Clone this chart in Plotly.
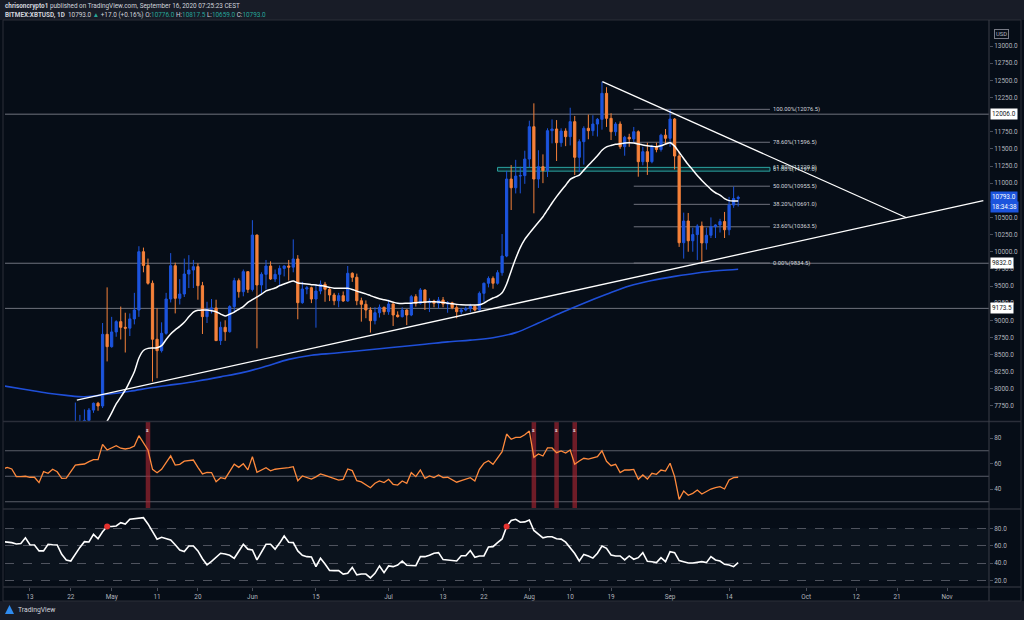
import plotly.graph_objects as go
import pandas as pd

# ---------------- data ----------------
candle_start, candle_end = "2020-04-07", "2020-09-16"

opens = [7200, 7180, 7360, 7290, 6870, 6890, 6910, 6860, 6870, 6630, 7110, 7030, 7250, 7130, 6840, 6860, 7130, 7490, 7510, 7540, 7690, 7790, 7750, 8795,
         8615, 8830, 8980, 8897, 8885, 9020, 9150, 10000, 9800, 9540, 8723, 8557, 8810, 9310, 9796, 9320, 9383, 9675, 9733, 9782, 9505, 9053, 9160, 9180, 8703, 8897, 8833, 9200, 9578, 9417, 9709,
         9450, 10243, 9515, 9670, 9792, 9602, 9670, 9757, 9792, 9775, 9894, 9257, 9456, 9475, 9310, 9427, 9525, 9452, 9369, 9285, 9359, 9281, 9685, 9627, 9285, 9233, 9150, 8994, 9110, 9189,
         9125, 9237, 9077, 9053, 9150, 9077, 9345, 9248, 9442, 9257, 9281, 9248, 9296, 9237, 9255, 9184, 9125, 9150, 9170, 9205, 9150, 9393, 9540, 9611, 9540, 9694, 9937, 11060, 10933, 11104, 11110,
         11352, 11823, 11060, 11240, 11182, 11765, 11790, 11590, 11760, 11678, 11897, 11377, 11605, 11800, 11765, 11862, 11931, 12310, 11945, 11750, 11862, 11532, 11669, 11645, 11750, 11313, 11459, 11313, 11532, 11490, 11700,
         11654, 11935, 11396, 10131, 10448, 10160, 10250, 10375, 10128, 10240, 10365, 10390, 10440, 10320, 10680, 10776]
highs = [7460, 7420, 7380, 7300, 6950, 7180, 6920, 6980, 6930, 7170, 7150, 7300, 7260, 7210, 6940, 7160, 7800, 7620, 7700, 7720, 7800, 7810, 8960, 9480,
         9050, 9000, 9200, 9110, 9100, 9400, 10080, 10060, 9900, 9580, 9175, 8970, 9400, 9980, 9840, 9600, 9900, 9950, 9880, 9830, 9560, 9270, 9310, 9300, 8980, 9000, 9220, 9620, 9610, 9740, 9710,
         10460, 10250, 9700, 9880, 9860, 9740, 9800, 9800, 9880, 10180, 9950, 9560, 9500, 9490, 9530, 9580, 9560, 9480, 9400, 9400, 9420, 9792, 9700, 9680, 9330, 9290, 9190, 9190, 9230, 9200,
         9300, 9270, 9130, 9190, 9160, 9370, 9380, 9470, 9450, 9320, 9300, 9340, 9340, 9280, 9270, 9220, 9180, 9200, 9240, 9220, 9420, 9550, 9640, 9640, 9730, 10258, 11180, 11264, 11340, 11240, 11473,
         11911, 12164, 11480, 11420, 11800, 11930, 11920, 11800, 11800, 12100, 11980, 11640, 11830, 12000, 11990, 11950, 12480, 12400, 12020, 11890, 11900, 11690, 11720, 11820, 11770, 11530, 11590, 11560, 11590, 11720, 11790,
         12076.5, 11950, 11460, 10570, 10565, 10350, 10400, 10440, 10350, 10500, 10400, 10480, 10580, 10800, 10950, 10817.5]
lows = [7080, 7150, 7120, 6760, 6780, 6810, 6560, 6780, 6610, 6470, 7000, 7020, 7050, 6790, 6800, 6840, 7030, 7420, 7440, 7480, 7650, 7680, 7720, 8400,
        8600, 8760, 8720, 8530, 8770, 8940, 9050, 9700, 9520, 8105, 8155, 8530, 8790, 9260, 9100, 9230, 9340, 9470, 9470, 9300, 8800, 8960, 9100, 8700, 8640, 8700, 8820, 9110, 9330, 9350, 9400,
        9420, 8591, 9390, 9450, 9590, 9560, 9490, 9640, 9580, 9700, 9015, 9240, 9380, 9250, 8892, 9380, 9270, 9280, 9220, 9190, 9270, 9270, 9560, 9220, 8980, 9030, 8820, 8940, 9040, 9080,
        9080, 8917, 9040, 9040, 8930, 9060, 9200, 9230, 9150, 9120, 9190, 9170, 9190, 9110, 9160, 9029, 9090, 9130, 9120, 9130, 9140, 9270, 9480, 9460, 9520, 9650, 9920, 10608, 10850, 10851, 10990,
        11230, 10560, 10930, 11000, 11090, 11580, 11323, 11530, 11540, 11550, 11118, 11160, 11270, 11640, 11690, 11680, 11780, 11820, 11629, 11690, 11500, 11400, 11530, 11600, 11094, 11260, 11120, 11290, 11450, 11460, 11570,
        11530, 11200, 10070, 9900, 10000, 10000, 9880, 9834.5, 10030, 10200, 10200, 10280, 10200, 10240, 10640, 10659]
closes = [7180, 7360, 7290, 6870, 6890, 6910, 6860, 6870, 6630, 7110, 7030, 7250, 7130, 6840, 6860, 7130, 7490, 7510, 7540, 7690, 7790, 7750, 8795, 8615,
          8830, 8980, 8897, 8885, 9020, 9150, 10000, 9800, 9540, 8723, 8557, 8810, 9310, 9796, 9320, 9383, 9675, 9733, 9782, 9505, 9053, 9160, 9180, 8703, 8897, 8833, 9200, 9578, 9417, 9709, 9450,
          10243, 9515, 9670, 9792, 9602, 9670, 9757, 9792, 9775, 9894, 9257, 9456, 9475, 9310, 9427, 9525, 9452, 9369, 9285, 9359, 9281, 9685, 9627, 9285, 9233, 9150, 8994, 9110, 9189, 9125,
          9237, 9077, 9053, 9150, 9077, 9345, 9248, 9442, 9257, 9281, 9248, 9296, 9237, 9255, 9184, 9125, 9150, 9170, 9205, 9150, 9393, 9540, 9611, 9540, 9694, 9937, 11060, 10933, 11104, 11110, 11352,
          11823, 11060, 11240, 11182, 11765, 11790, 11590, 11760, 11678, 11897, 11377, 11605, 11800, 11765, 11862, 11931, 12310, 11945, 11750, 11862, 11532, 11669, 11645, 11750, 11313, 11459, 11313, 11532, 11490, 11700, 11654,
          11935, 11396, 10131, 10448, 10160, 10250, 10375, 10128, 10240, 10365, 10390, 10440, 10320, 10680, 10776, 10793]

# white moving average (from 2020-04-27)
ma20_start = "2020-04-27"
ma20 = [7250, 7340, 7440, 7530,
        7650, 7780, 7880, 7980, 8110, 8250, 8450, 8560, 8590, 8595, 8600, 8630, 8720, 8800, 8860, 8910, 8970, 9050, 9120, 9145, 9150, 9150, 9140, 9125, 9090, 9062, 9090, 9120, 9160, 9200, 9260,
        9300, 9340, 9380, 9430, 9450, 9470, 9505, 9530, 9555, 9573, 9545, 9535, 9530, 9520, 9515, 9505, 9495, 9480, 9468, 9466, 9466, 9466, 9450, 9425, 9405, 9385, 9360, 9335, 9315, 9300,
        9285, 9265, 9250, 9245, 9248, 9250, 9256, 9262, 9266, 9270, 9271, 9265, 9258, 9250, 9240, 9232, 9226, 9223, 9222, 9222, 9225, 9250, 9290, 9325, 9350, 9400, 9530, 9720, 9900, 10060, 10180,
        10268, 10350, 10430, 10511, 10610, 10710, 10803, 10890, 10970, 11056, 11090, 11118, 11190, 11260, 11330, 11400, 11480, 11530, 11550, 11566, 11575, 11585, 11590, 11585, 11570, 11556, 11545, 11538, 11532, 11545, 11570,
        11590, 11540, 11450, 11360, 11270, 11192, 11110, 11040, 10973, 10910, 10860, 10827, 10775, 10745, 10740, 10740]

# blue long moving average (sampled)
ma200_dates = ["2020-04-07", "2020-04-12", "2020-04-17", "2020-04-21", "2020-04-25", "2020-04-30", "2020-05-05", "2020-05-10",
               "2020-05-15", "2020-05-20", "2020-05-25", "2020-05-30", "2020-06-04", "2020-06-09", "2020-06-14", "2020-06-19",
               "2020-06-24", "2020-06-29", "2020-07-04", "2020-07-09", "2020-07-14", "2020-07-19", "2020-07-24", "2020-07-29",
               "2020-08-03", "2020-08-08", "2020-08-13", "2020-08-18", "2020-08-23", "2020-08-28", "2020-09-02", "2020-09-07",
               "2020-09-12", "2020-09-16"]
ma200 = [8045, 7990, 7935, 7905, 7885, 7920, 7965, 8020, 8065, 8115, 8175, 8240, 8330, 8430, 8490, 8520,
         8552, 8585, 8618, 8650, 8685, 8710, 8745, 8820, 8960, 9110, 9250, 9380, 9500, 9580, 9640, 9690, 9725, 9745]

# oscillator panes (daily, from 2020-04-07)
osc1 = [55.4, 57, 55.7, 49.7, 49.7, 50, 49.2, 49.2, 45, 53.6, 52.3, 55.5, 53.5, 48.3, 48.6, 53.5, 58.8, 59.2, 59.6, 61.5, 63, 63, 75, 70.6,
        72, 74, 72, 71.4, 72, 73.7, 81.8, 76.5, 70.6, 55.4, 52.8, 55.5, 61, 66, 58.8, 59.3, 61.8, 62.4, 62.7, 57, 51.8, 53, 52.9, 45.7, 48.9, 48.1, 53.5, 59.4, 57, 59.8, 55,
        65.4, 53.1, 55, 56.7, 54.3, 55.5, 56, 56.2, 56.8, 57.5, 46.5, 50.2, 49, 47.8, 49.5, 51.8, 50.7, 49.5, 48.3, 47, 47.6, 55.7, 54.4, 46.5, 45.6, 43.5, 41, 44.5, 46.3, 45,
        47.6, 43.7, 43.1, 46.3, 44.5, 52.8, 49.7, 54.9, 48.4, 50.2, 48.9, 51, 48.9, 49.2, 47.5, 45.3, 46.5, 47.5, 48.9, 46.3, 55.4, 60.2, 62.2, 59.4, 64, 69.3, 83.1, 79, 80.5, 80.5, 82.5,
        85.5, 64.9, 67.5, 65.9, 72.2, 72.2, 68.5, 69.8, 68.2, 70.6, 59.4, 62, 64.1, 63.5, 64.6, 65.4, 70, 61.7, 58.3, 59.4, 52.8, 54.9, 54.9, 55.4, 47.6, 51, 47.8, 52.3, 51.5, 54.9, 54.1,
        60.2, 49.7, 31.9, 38.4, 35.1, 36.6, 39.2, 36.1, 37.9, 40, 41, 41.8, 40, 47.1, 48.9, 49.2]
osc2 = [64.6, 64, 63.5, 62, 62.5, 69, 61, 60.8, 54, 54, 61.6, 61, 60.8, 50, 43.6, 42.4, 51, 58, 64.6, 64.3, 73, 68, 76, 82,
        82, 82.6, 86.4, 84.9, 90.3, 91.2, 91.8, 92.2, 85, 76, 67.5, 69.7, 68.5, 66.5, 61, 55, 53.3, 59.6, 59.6, 54, 45, 38, 42, 46.5, 51.3, 50.5, 49, 45.5, 53, 61.6, 56,
        55, 43.6, 52, 61.6, 61.6, 56, 63, 71.1, 64, 63.5, 54, 49, 47.4, 47, 35.9, 45.5, 39, 31.5, 31.3, 31.3, 27.4, 28.2, 35, 26.5, 27.4, 27.4, 23, 28.2, 36.7, 29,
        36.7, 35.9, 37.8, 42.4, 37.5, 37, 37, 47.4, 47.4, 49, 51.3, 52, 44, 43.6, 43.3, 42.4, 48.5, 48.5, 54.5, 46.7, 48.2, 48.2, 58.5, 58.9, 63.5, 67.7, 81.9, 89, 90.3, 87, 87.3,
        89.5, 77.5, 73, 69, 70.3, 70.3, 68, 67.5, 64, 58, 51, 42.4, 50, 48.2, 45.7, 51.3, 59.6, 57, 49.3, 48.2, 48.2, 43.6, 48.2, 44.4, 46.2, 52, 42, 41.6, 40.5, 46.2, 41.6,
        53.1, 52, 42.8, 41.8, 40, 40, 40.5, 41.6, 40.5, 47.4, 43.6, 42.4, 38.6, 37.8, 35.9, 40.5]

sell_signal_dates = ["2020-05-09", "2020-08-02", "2020-08-07", "2020-08-11"]
dot_dates = ["2020-04-30", "2020-07-27"]

# drawings
trend_up_x = ["2020-04-23 08:00", "2020-11-09 00:00"]
trend_up_y = [7837, 10744]
trend_down_x = ["2020-08-17 02:00", "2020-10-23 02:00"]
trend_down_y = [12480, 10495]
level_prices = [12006.0, 9832.0, 9173.5]
fib_start, fib_end = "2020-08-24", "2020-09-23"
fib_prices = [9834.5, 10363.5, 10691.0, 10955.5, 11596.5, 12076.5]
fib_labels = ["0.00%(9834.5)", "23.60%(10363.5)", "38.20%(10691.0)", "50.00%(10955.5)", "78.60%(11596.5)", "100.00%(12076.5)"]
zone_start = "2020-07-25"
zone_prices = [11175, 11230]
zone_labels = ["61.80%(11220.0)", "61.80%(11197.0)"]
zone_label_prices = [11226, 11196]

# price-axis labels visible in the reference (12000 and 10750 sit under the level / last-price boxes)
price_ticks = [7750, 8000, 8250, 8500, 8750, 9000, 9250, 9500, 9750, 10000, 10250, 10500, 11000,
               11250, 11500, 11750, 12250, 12500, 12750, 13000]
date_ticks = ["2020-04-13", "2020-04-22", "2020-05-01", "2020-05-11", "2020-05-20", "2020-06-01", "2020-06-15",
              "2020-07-01", "2020-07-13", "2020-07-22", "2020-08-01", "2020-08-10", "2020-08-19", "2020-09-01",
              "2020-09-14", "2020-10-01", "2020-10-12", "2020-10-21", "2020-11-01"]
date_labels = ["13", "22", "May", "11", "20", "Jun", "15", "Jul", "13", "22", "Aug", "10", "19", "Sep", "14",
               "Oct", "12", "21", "Nov"]
last_price, countdown = 10793.0, "18:34:38"

# ---------------- layout helpers ----------------
W, H = 1024, 620
ML, MR, MT, MB = 5, 35, 21, 33
PW, PH = W - ML - MR, H - MT - MB


def px_x(px):
    return (px - ML) / PW


def px_y(py):
    return (H - MB - py) / PH


BG = "#060d17"
FRAME = "#181c27"
SEP = "#2a2e39"
BLUE = "#1c54dd"
ORANGE = "#f5813a"
TEAL = "#26a69a"
TXT = "#b2b5be"
FONT = "Roboto"

cdates = pd.date_range(candle_start, candle_end, freq="D")
mdates = pd.date_range(ma20_start, periods=len(ma20), freq="D")
osc_dates = pd.date_range(candle_start, periods=len(osc1), freq="D")
osc2_s = pd.Series(osc2, index=osc_dates)

fig = go.Figure()
fig.add_trace(go.Candlestick(
    x=cdates, open=opens, high=highs, low=lows, close=closes,
    increasing=dict(line=dict(color=BLUE, width=1), fillcolor=BLUE),
    decreasing=dict(line=dict(color=ORANGE, width=1), fillcolor=ORANGE),
    whiskerwidth=0, xaxis="x", yaxis="y", showlegend=False, hoverinfo="skip"))
fig.add_trace(go.Scatter(x=ma200_dates, y=ma200, mode="lines", line=dict(color="#1f4fd8", width=1.6, shape="spline"),
                         xaxis="x", yaxis="y", showlegend=False, hoverinfo="skip"))
fig.add_trace(go.Scatter(x=mdates, y=ma20, mode="lines", line=dict(color="#ffffff", width=1.5, shape="spline", smoothing=0.6),
                         xaxis="x", yaxis="y", showlegend=False, hoverinfo="skip"))
fig.add_trace(go.Scatter(x=trend_up_x, y=trend_up_y, mode="lines", line=dict(color="#ffffff", width=1.3),
                         xaxis="x", yaxis="y", showlegend=False, hoverinfo="skip"))
fig.add_trace(go.Scatter(x=trend_down_x, y=trend_down_y, mode="lines", line=dict(color="#ffffff", width=1.3),
                         xaxis="x", yaxis="y", showlegend=False, hoverinfo="skip"))
fig.add_trace(go.Scatter(x=osc_dates, y=osc1, mode="lines", line=dict(color="#ff8a3d", width=1.3),
                         xaxis="x", yaxis="y2", showlegend=False, hoverinfo="skip"))
fig.add_trace(go.Scatter(x=osc_dates, y=osc2, mode="lines", line=dict(color="#ffffff", width=1.6),
                         xaxis="x", yaxis="y3", showlegend=False, hoverinfo="skip"))
fig.add_trace(go.Scatter(x=dot_dates, y=[osc2_s[pd.Timestamp(d)] for d in dot_dates], mode="markers",
                         marker=dict(color="#e5322f", size=6), xaxis="x", yaxis="y3", showlegend=False, hoverinfo="skip"))

shapes = []
# outer header / footer strips
shapes.append(dict(type="rect", xref="paper", yref="paper", x0=px_x(0), x1=px_x(W), y0=px_y(20), y1=px_y(0),
                   fillcolor=FRAME, line=dict(width=0), layer="below"))
shapes.append(dict(type="rect", xref="paper", yref="paper", x0=px_x(0), x1=px_x(W), y0=px_y(H), y1=px_y(601),
                   fillcolor=FRAME, line=dict(width=0), layer="below"))
# frame & separators
shapes.append(dict(type="rect", xref="paper", yref="paper", x0=px_x(3), x1=px_x(1021), y0=px_y(601), y1=px_y(20),
                   line=dict(color=SEP, width=1)))
for py in (421.5, 509, 587):
    shapes.append(dict(type="line", xref="paper", yref="paper", x0=px_x(3), x1=px_x(1021), y0=px_y(py), y1=px_y(py),
                       line=dict(color=SEP, width=1.5)))
shapes.append(dict(type="line", xref="paper", yref="paper", x0=1, x1=1, y0=px_y(601), y1=px_y(20),
                   line=dict(color="#3a3e49", width=1)))
# horizontal levels
for lv in level_prices:
    shapes.append(dict(type="line", xref="paper", yref="y", x0=0, x1=1, y0=lv, y1=lv,
                       line=dict(color="#6f727d", width=1), layer="below"))
# fib lines
for fp in fib_prices:
    shapes.append(dict(type="line", xref="x", yref="y", x0=fib_start, x1=fib_end, y0=fp, y1=fp,
                       line=dict(color="#6f727d", width=1), layer="below"))
# teal zone
shapes.append(dict(type="rect", xref="x", yref="y", x0=zone_start, x1=fib_end, y0=zone_prices[0], y1=zone_prices[1],
                   line=dict(color="#2aa3a0", width=1), fillcolor="rgba(38,166,154,0.18)", layer="below"))
# osc pane 1 levels
for lv in (30, 50, 70):
    shapes.append(dict(type="line", xref="paper", yref="y2", x0=0, x1=1, y0=lv, y1=lv,
                       line=dict(color="#5a5e69", width=1), layer="below"))
# osc pane 2 band
shapes.append(dict(type="rect", xref="paper", yref="y3", x0=0, x1=1, y0=20, y1=80,
                   fillcolor="rgba(120,130,150,0.05)", line=dict(width=0), layer="below"))
# sell signal bands
for d in sell_signal_dates:
    t = pd.Timestamp(d)
    shapes.append(dict(type="rect", xref="x", yref="y2 domain", x0=t - pd.Timedelta(hours=12), x1=t + pd.Timedelta(hours=12),
                       y0=0, y1=1, fillcolor="rgba(175,38,50,0.62)", line=dict(width=0), layer="below"))

ann = []
hdr1 = "<b>chrisoncrypto1</b> published on TradingView.com, September 16, 2020 07:25:23 CEST"
tc = "<span style='color:%s'>%s</span>"
hdr2 = ("<b>BITMEX:XBTUSD, 1D</b>  10793.0 " + tc % (TEAL, "▲") + " +17.0 (+0.16%) O:" + tc % (TEAL, "10776.0") +
        " H:" + tc % (TEAL, "10817.5") + " L:" + tc % (TEAL, "10659.0") + " C:" + tc % (TEAL, "10793.0"))
ann.append(dict(xref="paper", yref="paper", x=px_x(3), y=px_y(6), text=hdr1, showarrow=False, xanchor="left",
                yanchor="middle", font=dict(family=FONT, size=6.4, color="#d1d4dc")))
ann.append(dict(xref="paper", yref="paper", x=px_x(3), y=px_y(15), text=hdr2, showarrow=False, xanchor="left",
                yanchor="middle", font=dict(family=FONT, size=6.4, color="#d1d4dc")))
ann.append(dict(xref="paper", yref="paper", x=px_x(16), y=px_y(610), text="TradingView", showarrow=False,
                xanchor="left", yanchor="middle", font=dict(family=FONT, size=6.8, color="#d1d4dc")))
shapes.append(dict(type="path", xref="paper", yref="paper",
                   path="M %f %f L %f %f L %f %f Z" % (px_x(5), px_y(614), px_x(9.5), px_y(605), px_x(14), px_y(614)),
                   fillcolor="#2f8cf0", line=dict(width=0)))
# level labels on the price axis
for lv in level_prices:
    ann.append(dict(xref="paper", yref="y", x=1, y=lv, xanchor="left", xshift=1, text="%.1f" % lv, showarrow=False,
                    bgcolor="#ffffff", borderpad=1, font=dict(family=FONT, size=6.4, color="#131722")))
ann.append(dict(xref="paper", yref="y", x=1, y=last_price, xanchor="left", xshift=1, text="%.1f" % last_price,
                showarrow=False, bgcolor="#1c54dd", borderpad=1, font=dict(family=FONT, size=6.4, color="#ffffff")))
ann.append(dict(xref="paper", yref="y", x=1, y=last_price, xanchor="left", xshift=1, yshift=-10, text=countdown,
                showarrow=False, bgcolor="#1c54dd", borderpad=1, font=dict(family=FONT, size=6.4, color="#ffffff")))
ann.append(dict(xref="paper", yref="paper", x=px_x(1009), y=px_y(29), text="USD", showarrow=False,
                bordercolor="#787b86", borderwidth=1, borderpad=1, font=dict(family=FONT, size=5.8, color=TXT)))
# fib labels
for fp, fl in zip(fib_prices, fib_labels):
    ann.append(dict(xref="x", yref="y", x=fib_end, y=fp, xanchor="left", xshift=1, text=fl, showarrow=False,
                    font=dict(family=FONT, size=5.8, color="#d1d4dc")))
for zp, zl in zip(zone_label_prices, zone_labels):
    ann.append(dict(xref="x", yref="y", x=fib_end, y=zp, xanchor="left", xshift=1, text=zl, showarrow=False,
                    font=dict(family=FONT, size=5.8, color="#c9d6d6")))
for d in sell_signal_dates:
    ann.append(dict(xref="x", yref="y2", x=d, y=86, text="s", showarrow=False,
                    font=dict(family=FONT, size=5, color="#ffffff")))

axis_font = dict(family=FONT, size=6.4, color=TXT)
fig.update_layout(
    width=W, height=H, margin=dict(l=ML, r=MR, t=MT, b=MB),
    paper_bgcolor=BG, plot_bgcolor=BG, showlegend=False,
    shapes=shapes, annotations=ann,
    xaxis=dict(domain=[0, 1], anchor="y3", type="date", range=["2020-04-07 12:10", "2020-11-10 06:00"],
               tickvals=date_ticks, ticktext=date_labels, tickfont=axis_font, ticks="outside", ticklen=3,
               tickcolor="#4a4e59", showgrid=False, zeroline=False, showline=False,
               rangeslider=dict(visible=False)),
    yaxis=dict(domain=[px_y(421), 1], anchor="x", side="right", range=[7531, 13365],
               tickvals=price_ticks, ticktext=["%.1f" % v for v in price_ticks], tickfont=axis_font,
               ticks="outside", ticklen=3, tickcolor="#4a4e59", showgrid=False, zeroline=False, showline=False),
    yaxis2=dict(domain=[px_y(508), px_y(422)], anchor="x", side="right", range=[25.1, 92.55],
                tickvals=[40, 60, 80], ticktext=["40", "60", "80"], tickfont=axis_font, ticks="outside",
                ticklen=3, tickcolor="#4a4e59", showgrid=False, zeroline=False, showline=False),
    yaxis3=dict(domain=[0, px_y(510)], anchor="x", side="right", range=[12.5, 101],
                tickvals=[20, 40, 60, 80], ticktext=["20.0", "40.0", "60.0", "80.0"], tickfont=axis_font,
                ticks="outside", ticklen=3, tickcolor="#4a4e59", showgrid=True, gridcolor="#4f535e",
                griddash="dash", gridwidth=1, zeroline=False, showline=False),
)

fig.write_html("out.html", config={"displayModeBar": False})

# remove the default page margin so the 1024x620 figure fills the window exactly
with open("out.html", "r", encoding="utf-8") as f:
    page = f.read()
page = page.replace("<head>", "<head><style>html,body{margin:0;padding:0;overflow:hidden;background:#060d17}</style>", 1)
with open("out.html", "w", encoding="utf-8") as f:
    f.write(page)
